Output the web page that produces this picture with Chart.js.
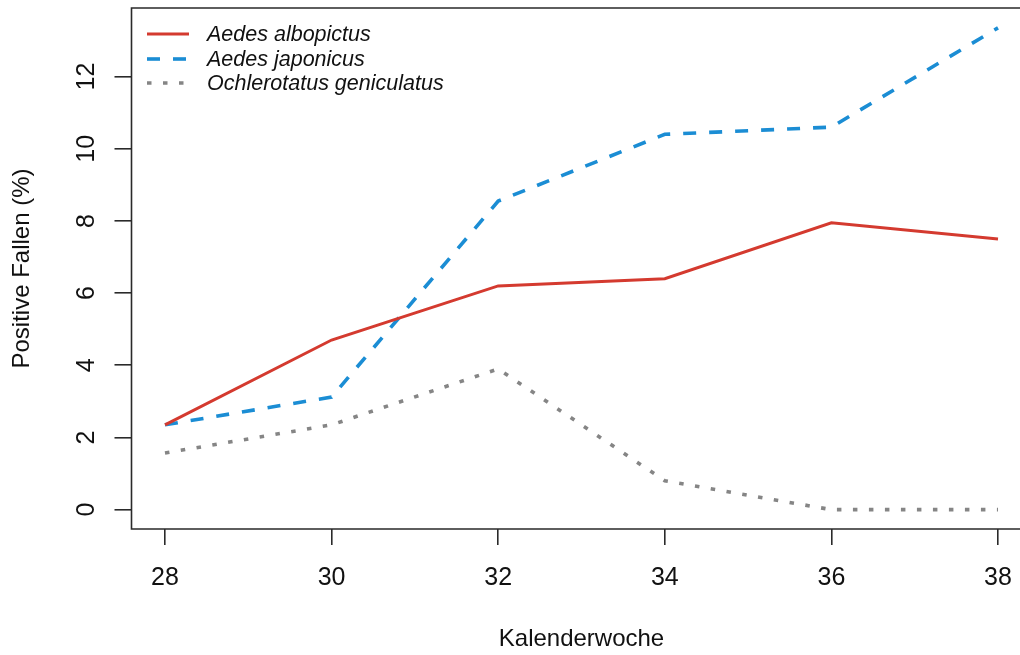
<!DOCTYPE html>
<html>
<head>
<meta charset="utf-8">
<script src="https://cdn.jsdelivr.net/npm/chart.js@4.4.1/dist/chart.umd.min.js"></script>
<style>
html,body{margin:0;padding:0;background:#fff;overflow:hidden;}
#wrap{position:relative;width:1020px;height:655px;}
</style>
</head>
<body>
<div id="wrap"><canvas id="c" width="1020" height="655"></canvas></div>
<script>
// ---- data ----
const weeks = [28, 30, 32, 34, 36, 38];
const albopictus = [2.35, 4.7, 6.2, 6.4, 7.95, 7.5];
const japonicus = [2.35, 3.12, 8.55, 10.4, 10.6, 13.35];
const geniculatus = [1.57, 2.35, 3.9, 0.8, 0.0, 0.0];
const seriesNames = ['Aedes albopictus', 'Aedes japonicus', 'Ochlerotatus geniculatus'];
const xTicks = [28, 30, 32, 34, 36, 38];
const yTicks = [0, 2, 4, 6, 8, 10, 12];
const xTitle = 'Kalenderwoche';
const yTitle = 'Positive Fallen (%)';

const FONT = '"Liberation Sans", Arial, Helvetica, sans-serif';
const AX = '#2a2a2a';
const X_FULL = [27.6, 38.4]; // full plot-region extent (right part lies off-picture)

function pts(vals){ return weeks.map((w,i)=>({x:w, y:vals[i]})); }

const boxPlugin = {
  id:'box',
  afterDraw(chart){
    const {ctx, chartArea:a} = chart;
    const xs = chart.scales.x, ys = chart.scales.y;
    ctx.save();
    // plot frame (its right side lies beyond the picture edge)
    ctx.strokeStyle = AX; ctx.lineWidth = 1.6;
    ctx.beginPath();
    ctx.moveTo(chart.width + 2, a.top);
    ctx.lineTo(a.left, a.top);
    ctx.lineTo(a.left, a.bottom);
    ctx.lineTo(chart.width + 2, a.bottom);
    ctx.stroke();
    // x axis title centred on the full plot region
    ctx.fillStyle = '#111';
    ctx.font = '24px ' + FONT;
    ctx.textAlign = 'center';
    ctx.textBaseline = 'middle';
    const cx = (xs.getPixelForValue(X_FULL[0]) + xs.getPixelForValue(X_FULL[1])) / 2;
    ctx.fillText(xTitle, cx, 639);
    // rotated y tick labels
    ctx.font = '25px ' + FONT;
    ctx.textAlign = 'center';
    ctx.textBaseline = 'alphabetic';
    yTicks.forEach(v=>{
      const py = ys.getPixelForValue(v);
      ctx.save();
      ctx.translate(94, py);
      ctx.rotate(-Math.PI/2);
      ctx.fillText(String(v), 0, 0);
      ctx.restore();
    });
    // legend (inside plot, no box)
    const rows = [34, 59, 83];
    chart.data.datasets.forEach((ds, i)=>{
      const y = rows[i];
      ctx.save();
      ctx.strokeStyle = ds.borderColor;
      ctx.lineWidth = ds.borderWidth;
      ctx.setLineDash(ds.borderDash || []);
      ctx.lineCap = 'butt';
      ctx.beginPath(); ctx.moveTo(147, y); ctx.lineTo(189, y); ctx.stroke();
      ctx.restore();
      ctx.fillStyle = '#111';
      ctx.font = 'italic 21.5px ' + FONT;
      ctx.textAlign = 'left';
      ctx.textBaseline = 'middle';
      ctx.fillText(ds.label, 207, y + 1);
    });
    ctx.restore();
  }
};

new Chart(document.getElementById('c'), {
  type:'line',
  data:{
    datasets:[
      {label:seriesNames[0], data:pts(albopictus), borderColor:'#d43a2f', borderWidth:3, pointRadius:0, tension:0, borderCapStyle:'butt'},
      {label:seriesNames[1], data:pts(japonicus), borderColor:'#1b8dd4', borderWidth:3.6, borderDash:[13,13], pointRadius:0, tension:0, borderCapStyle:'butt'},
      {label:seriesNames[2], data:pts(geniculatus), borderColor:'#858585', borderWidth:3.6, borderDash:[4.5,11.5], pointRadius:0, tension:0, borderCapStyle:'butt'}
    ]
  },
  options:{
    responsive:false, animation:false,
    layout:{padding:{top:8, right:0, left:0, bottom:0}},
    plugins:{legend:{display:false}, tooltip:{enabled:false}},
    scales:{
      x:{
        type:'linear', min:27.598, max:38.264,
        afterBuildTicks(s){ s.ticks = xTicks.map(v=>({value:v})); },
        afterFit(s){ s.height = 126; s.paddingLeft = 0; s.paddingRight = 0; },
        border:{display:false},
        grid:{drawOnChartArea:false, drawTicks:true, tickLength:16, color:AX, lineWidth:1.6},
        ticks:{color:'#111', font:{family:FONT, size:25}, padding:18, maxRotation:0, autoSkip:false},
        title:{display:false}
      },
      y:{
        type:'linear', min:-0.536, max:13.9,
        afterBuildTicks(s){ s.ticks = yTicks.map(v=>({value:v})); },
        afterFit(s){ s.width = 131.5; s.paddingTop = 0; s.paddingBottom = 0; },
        border:{display:false},
        grid:{drawOnChartArea:false, drawTicks:true, tickLength:17, color:AX, lineWidth:1.6},
        ticks:{display:false},
        title:{display:true, text:yTitle, color:'#111', font:{family:FONT, size:24}, padding:{top:8, bottom:0}}
      }
    }
  },
  plugins:[boxPlugin]
});
</script>
</body>
</html>
